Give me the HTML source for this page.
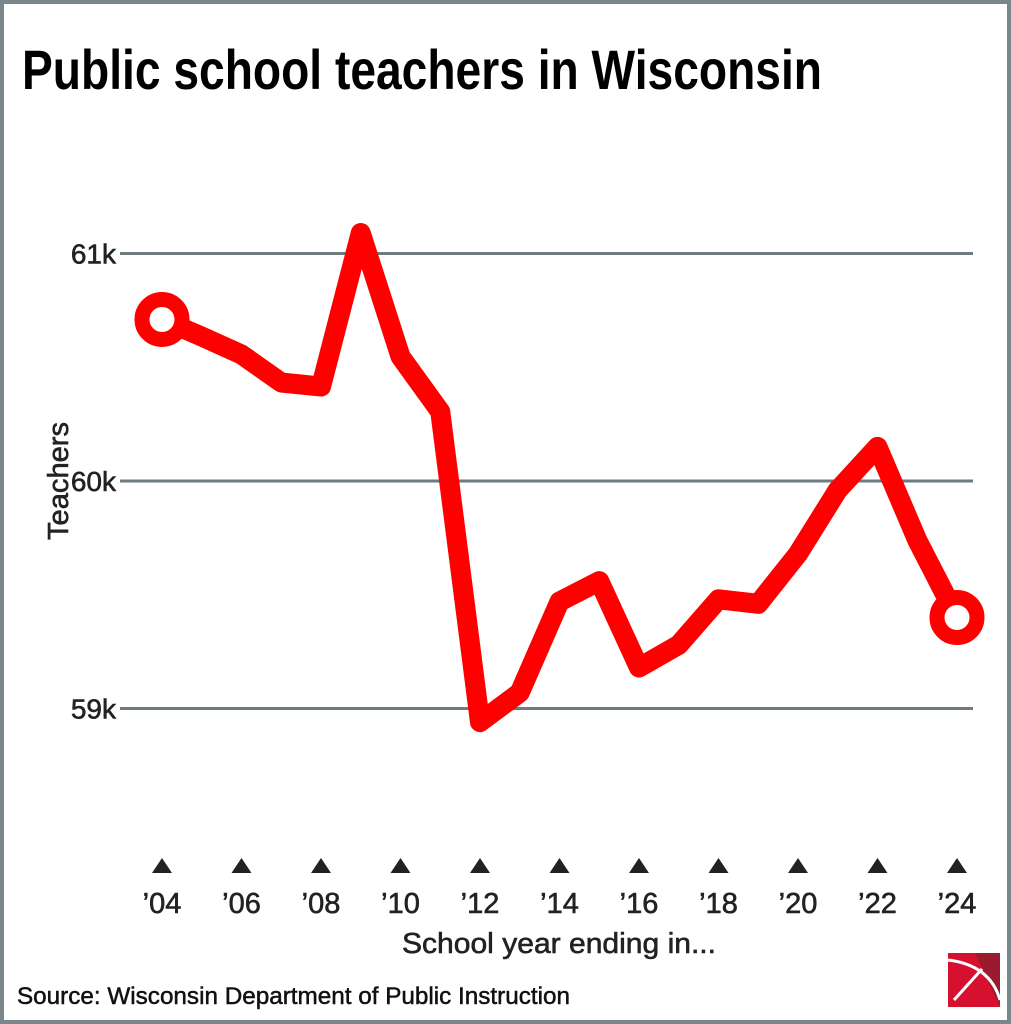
<!DOCTYPE html>
<html><head><meta charset="utf-8"><style>
html,body{margin:0;padding:0;background:#fff;}
svg{display:block;}
text{font-family:"Liberation Sans",sans-serif;}
</style></head><body>
<svg id="chart" width="1011" height="1024">
<rect x="2" y="2" width="1007" height="1020" fill="#fff" stroke="#7a868a" stroke-width="4"/>
<text x="22" y="89" font-size="56" font-weight="bold" fill="#000" textLength="800" lengthAdjust="spacingAndGlyphs">Public school teachers in Wisconsin</text>
<g id="grid"></g>
<g id="xaxis"></g>
<g id="series"></g>
<text transform="translate(68,481) rotate(-90)" text-anchor="middle" font-size="29" fill="#222" stroke="#222" stroke-width="0.6" textLength="118" lengthAdjust="spacingAndGlyphs">Teachers</text>
<text x="559" y="953" text-anchor="middle" font-size="29" fill="#222" stroke="#222" stroke-width="0.6" textLength="314" lengthAdjust="spacingAndGlyphs">School year ending in...</text>
<text x="17" y="1004" font-size="24" fill="#111" stroke="#111" stroke-width="0.5" textLength="553" lengthAdjust="spacingAndGlyphs">Source: Wisconsin Department of Public Instruction</text>
<g>
<rect x="948" y="953" width="52" height="54" fill="#d6102f"/>
<polygon points="975,953 1000,953 1000,1007" fill="#9b1b2e"/>
<path d="M948,960 Q990,965 1000,1000" stroke="#fff" stroke-width="3" fill="none"/>
<line x1="982" y1="969" x2="954" y2="1000" stroke="#fff" stroke-width="3"/>
</g>
</svg>
<script>
const years=[2004,2005,2006,2007,2008,2009,2010,2011,2012,2013,2014,2015,2016,2017,2018,2019,2020,2021,2022,2023,2024];
const teachers=[60.71,60.635,60.556,60.433,60.415,61.09,60.547,60.305,58.94,59.07,59.47,59.56,59.18,59.28,59.48,59.46,59.68,59.96,60.15,59.74,59.40];
const yTicks=[59,60,61];
const yTickLabels=["59k","60k","61k"];
const xTicks=[2004,2006,2008,2010,2012,2014,2016,2018,2020,2022,2024];
const xTickLabels=["’04","’06","’08","’10","’12","’14","’16","’18","’20","’22","’24"];
const NS="http://www.w3.org/2000/svg";
function x(v){return 162+(v-2004)*(957-162)/20;}
function y(v){return 481-(v-60)*227.5;}
function mk(tag,attrs,parent){const e=document.createElementNS(NS,tag);for(const k in attrs)e.setAttribute(k,attrs[k]);parent.appendChild(e);return e;}
const grid=document.getElementById('grid');
yTicks.forEach((t,i)=>{
  const l=mk('line',{x1:120,x2:973,y1:y(t),y2:y(t),stroke:'#6e7b80','stroke-width':3},grid);
  
  
  const tx=mk('text',{x:116,y:y(t)+10,'text-anchor':'end','font-size':28,fill:'#222',stroke:'#222','stroke-width':0.6},grid);
  tx.textContent=yTickLabels[i];
  
  
});
const xa=document.getElementById('xaxis');
xTicks.forEach((t,i)=>{
  const cx=x(t);
  const tri=mk('polygon',{points:`${cx-10},873 ${cx+10},873 ${cx},858`,fill:'#222'},xa);
  
  
  const tx=mk('text',{x:cx,y:913,'text-anchor':'middle','font-size':29,fill:'#222',stroke:'#222','stroke-width':0.6},xa);
  tx.textContent=xTickLabels[i];
  
  
});
const s=document.getElementById('series');
const pts=years.map((yr,i)=>x(yr)+','+y(teachers[i])).join(' ');
const pl=mk('polyline',{points:pts,fill:'none',stroke:'#ff0000','stroke-width':20,'stroke-linejoin':'round','stroke-linecap':'round'},s);


[0,years.length-1].forEach(i=>{
  const c=mk('circle',{cx:x(years[i]),cy:y(teachers[i]),r:20,fill:'#fff',stroke:'#ff0000','stroke-width':15},s);
  
  
});
</script>
</body></html>
